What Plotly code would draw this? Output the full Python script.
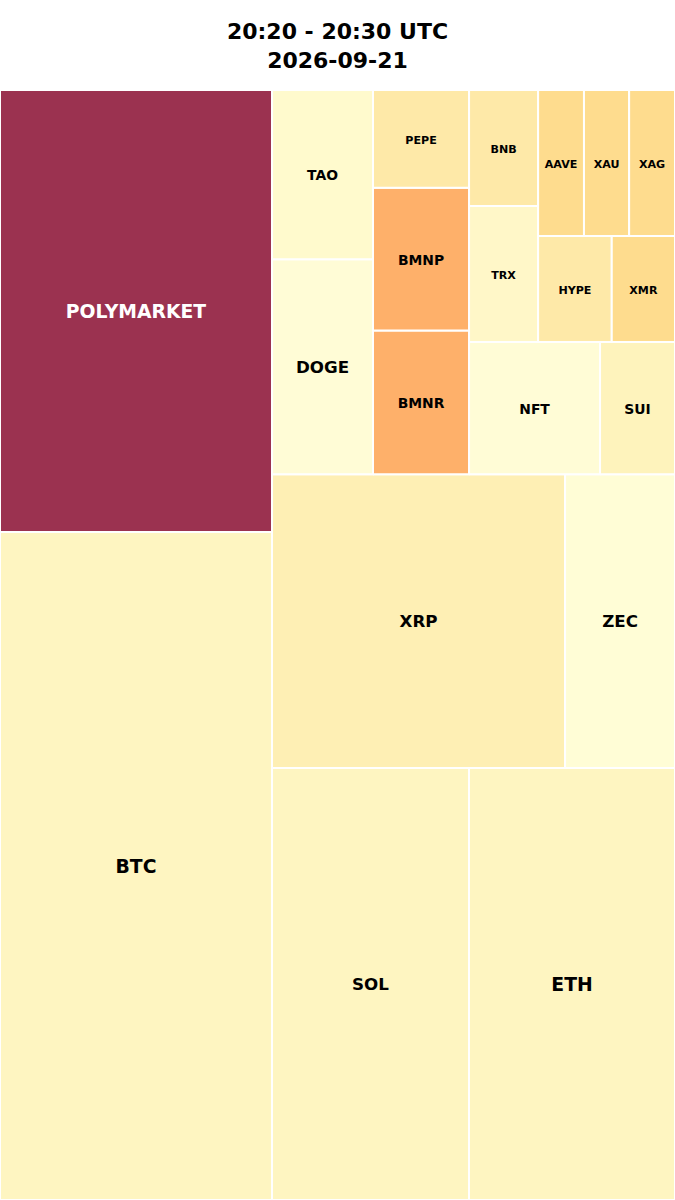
import plotly.graph_objects as go

# ---- data (order as given to the squarify layout) ----
labels = ["BTC", "POLYMARKET", "SOL", "ETH", "XRP", "ZEC", "DOGE", "TAO",
          "BMNR", "BMNP", "PEPE", "NFT", "SUI", "TRX", "BNB", "HYPE",
          "XMR", "AAVE", "XAU", "XAG"]
values = [181.7, 120.2, 85.1, 89.0, 86.1, 32.3, 21.7, 17.1,
          13.8, 13.7, 9.4, 17.3, 9.9, 9.4, 8.0, 7.8,
          6.7, 6.7, 6.6, 6.7]
title_line1 = "20:20 - 20:30 UTC"
title_line2 = "2026-09-21"

# ---- styles ----
fill_colors = {
    "BTC": "#fef5c1", "POLYMARKET": "#9b3250", "SOL": "#fef5c1", "ETH": "#fef5c1",
    "XRP": "#feefb4", "ZEC": "#fffdd6", "DOGE": "#fffcd6", "TAO": "#fffacd",
    "BMNR": "#feb06a", "BMNP": "#feb06a", "PEPE": "#fee9a8", "NFT": "#fffcd6",
    "SUI": "#fef3bc", "TRX": "#fff7c8", "BNB": "#fee9a8", "HYPE": "#fee9a8",
    "XMR": "#fedc8e", "AAVE": "#fedc8e", "XAU": "#fedc8e", "XAG": "#fedc8e",
}


def font_size_for(v):
    if v >= 88:
        return 18.8
    if v >= 20:
        return 16.7
    if v >= 9.6:
        return 13.9
    return 11.1


def text_color_for(hexcol):
    r, g, b = (int(hexcol[i:i + 2], 16) for i in (1, 3, 5))
    lum = 0.299 * r + 0.587 * g + 0.114 * b
    return "white" if lum < 140 else "black"


# ---- squarify layout (same algorithm as the python `squarify` package) ----
def normalize_sizes(sizes, dx, dy):
    total = sum(sizes)
    return [s * dx * dy / total for s in sizes]


def layoutrow(sizes, x, y, dx, dy):
    width = sum(sizes) / dy
    rects = []
    for s in sizes:
        rects.append((x, y, width, s / width))
        y += s / width
    return rects


def layoutcol(sizes, x, y, dx, dy):
    height = sum(sizes) / dx
    rects = []
    for s in sizes:
        rects.append((x, y, s / height, height))
        x += s / height
    return rects


def layout(sizes, x, y, dx, dy):
    return layoutrow(sizes, x, y, dx, dy) if dx >= dy else layoutcol(sizes, x, y, dx, dy)


def leftover(sizes, x, y, dx, dy):
    if dx >= dy:
        w = sum(sizes) / dy
        return x + w, y, dx - w, dy
    h = sum(sizes) / dx
    return x, y + h, dx, dy - h


def worst_ratio(sizes, x, y, dx, dy):
    return max(max(r[2] / r[3], r[3] / r[2]) for r in layout(sizes, x, y, dx, dy))


def squarify(sizes, x, y, dx, dy):
    if len(sizes) == 0:
        return []
    if len(sizes) == 1:
        return layout(sizes, x, y, dx, dy)
    i = 1
    while i < len(sizes) and worst_ratio(sizes[:i], x, y, dx, dy) >= worst_ratio(sizes[:i + 1], x, y, dx, dy):
        i += 1
    cur, rem = sizes[:i], sizes[i:]
    lx, ly, ldx, ldy = leftover(cur, x, y, dx, dy)
    return layout(cur, x, y, dx, dy) + squarify(rem, lx, ly, ldx, ldy)


NORM = 100.0
PLOT_H_PX = 1110.0
TEXT_NUDGE = 2.0 / PLOT_H_PX * NORM  # nudge labels ~2px down to sit at the visual centre
rects = squarify(normalize_sizes(values, NORM, NORM), 0.0, 0.0, NORM, NORM)

fig = go.Figure()
cx, cy, txt, tsize, tcolor = [], [], [], [], []
for lab, val, (x, y, dx, dy) in zip(labels, values, rects):
    col = fill_colors[lab]
    fig.add_trace(go.Scatter(
        x=[x, x + dx, x + dx, x, x], y=[y, y, y + dy, y + dy, y],
        mode="lines", fill="toself", fillcolor=col,
        line=dict(color="white", width=2),
        name=lab, hoverinfo="text", text=f"{lab}: {val}", showlegend=False,
    ))
    cx.append(x + dx / 2)
    cy.append(y + dy / 2 - TEXT_NUDGE)
    txt.append(f"<b>{lab}</b>")
    tsize.append(font_size_for(val))
    tcolor.append(text_color_for(col))

fig.add_trace(go.Scatter(
    x=cx, y=cy, mode="text", text=txt, textposition="middle center",
    textfont=dict(family="DejaVu Sans", size=tsize, color=tcolor),
    hoverinfo="skip", showlegend=False,
))

fig.update_layout(
    width=675, height=1200,
    margin=dict(l=0, r=0, t=90, b=0, pad=0),
    paper_bgcolor="white", plot_bgcolor="white",
    title=dict(
        text=f"<b>{title_line1}</b><br><b>{title_line2}</b>",
        x=0.5, xanchor="center", xref="paper",
        y=1 - 39 / 1200, yref="container", yanchor="middle",
        font=dict(family="DejaVu Sans", size=22, color="black"),
    ),
    xaxis=dict(range=[0, NORM], visible=False, fixedrange=True),
    yaxis=dict(range=[0, NORM], visible=False, fixedrange=True),
    showlegend=False,
)

fig.write_html(
    "out.html",
    config={"displayModeBar": False},
    post_script="document.body.style.margin='0px';document.body.style.padding='0px';"
                "document.body.style.overflow='hidden';",
)
